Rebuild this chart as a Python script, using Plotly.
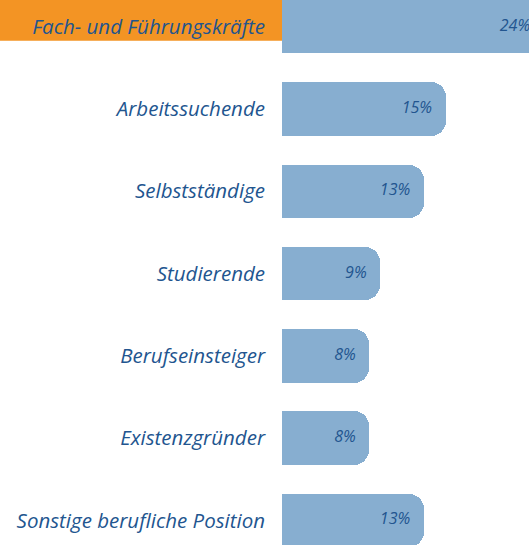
import plotly.graph_objects as go

categories = [
    "Fach- und Führungskräfte",
    "Arbeitssuchende",
    "Selbstständige",
    "Studierende",
    "Berufseinsteiger",
    "Existenzgründer",
    "Sonstige berufliche Position",
]
values = [24, 15, 13, 9, 8, 8, 13]
value_labels = [f"{v}%" for v in values]

BAR = "#87AED0"
TEXT = "#22558F"
ORANGE = "#F39424"
FONT = "Open Sans"

fig = go.Figure()
fig.add_bar(
    y=categories, x=values, orientation="h",
    marker=dict(color=BAR, cornerradius=15, line=dict(width=0)),
    width=0.65, hoverinfo="skip",
)
fig.add_scatter(
    y=categories, x=values, mode="markers+text",
    text=value_labels, textposition="middle left",
    marker=dict(size=20, color="rgba(0,0,0,0)"),
    textfont=dict(family=FONT, size=16, color=TEXT, style="italic"),
    cliponaxis=True, hoverinfo="skip", showlegend=False,
)

fig.add_shape(
    type="rect", xref="paper", yref="paper",
    x0=-282 / 247, x1=0, y0=1 - 40.7 / 545, y1=1.01,
    fillcolor=ORANGE, line=dict(width=0), layer="below",
)

fig.update_layout(
    width=529, height=545,
    margin=dict(l=282, r=0, t=0, b=0, pad=0),
    paper_bgcolor="white", plot_bgcolor="white",
    showlegend=False, bargap=0,
)
fig.update_xaxes(range=[0, 22.66], visible=False, showgrid=False, zeroline=False)
fig.update_yaxes(
    type="category", categoryorder="array", categoryarray=categories,
    range=[6.298, -0.324], showgrid=False, zeroline=False, showline=False,
    ticks="", ticklabelstandoff=16,
    tickfont=dict(family=FONT, size=20.5, color=TEXT, style="italic"),
)

fig.write_html(
    "out.html",
    config={"displayModeBar": False},
    post_script="document.body.style.margin='0';document.body.style.overflow='hidden';",
)
